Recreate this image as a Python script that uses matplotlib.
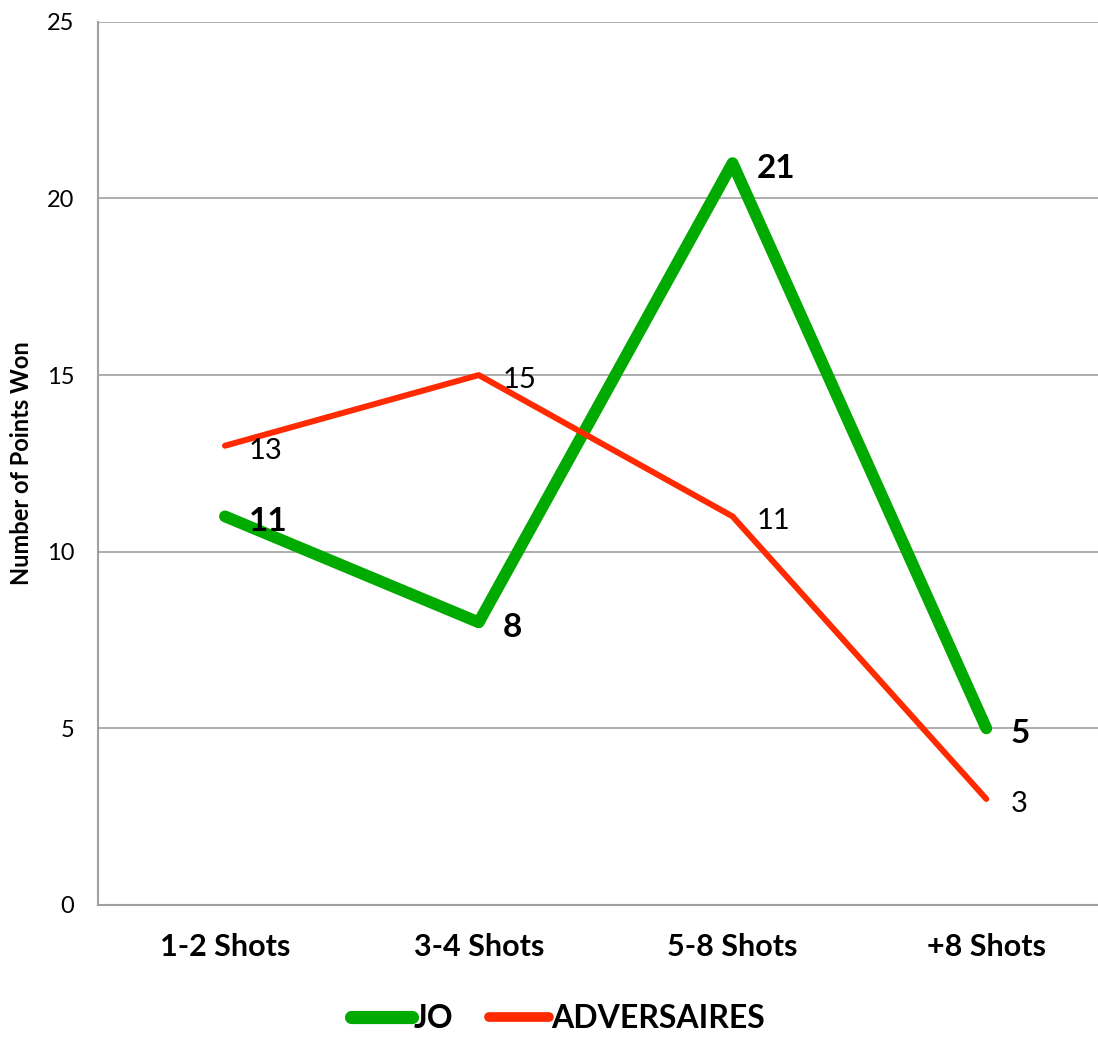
import matplotlib
matplotlib.use('Agg')
from matplotlib import pyplot as plt
import numpy as np

categories = ['1-2 Shots', '3-4 Shots', '5-8 Shots', '+8 Shots']
jo_values = [11, 8, 21, 5]
adv_values = [13, 15, 11, 3]

plt.rcParams['font.family'] = ['Lato', 'DejaVu Sans']

fig = plt.figure(figsize=(10.98, 10.39), dpi=100)
ax = fig.add_axes([0.0893, 0.129, 0.9107, 0.85])

x = np.arange(len(categories))
green = '#00AA00'
red = '#FF2A00'

ax.plot(x, jo_values, color=green, lw=8.5, solid_capstyle='round', solid_joinstyle='round', label='JO', zorder=3)
ax.plot(x, adv_values, color=red, lw=4.3, solid_capstyle='round', solid_joinstyle='round', label='ADVERSAIRES', zorder=3)

for xi, v in zip(x, jo_values):
    ax.annotate(str(v), (xi, v), xytext=(24, -5), textcoords='offset pixels',
                ha='left', va='center', fontsize=24, fontweight='bold')
for xi, v in zip(x, adv_values):
    ax.annotate(str(v), (xi, v), xytext=(24, -5), textcoords='offset pixels',
                ha='left', va='center', fontsize=21)

ax.set_xlim(-0.5, 3.44)
ax.set_ylim(0, 25)
ax.set_yticks([0, 5, 10, 15, 20, 25])
ax.set_xticks(x)
ax.set_xticklabels(categories, fontsize=22, fontweight='bold')
ax.tick_params(axis='y', labelsize=17, length=0, pad=17)
ax.tick_params(axis='x', length=0, pad=20)
ax.grid(axis='y', color='#A0A0A0', lw=1.2)
ax.set_axisbelow(True)
for s in ['top', 'right']:
    ax.spines[s].set_visible(False)
for s in ['left', 'bottom']:
    ax.spines[s].set_color('#A0A0A0')
    ax.spines[s].set_linewidth(1.5)

ax.set_ylabel('Number of Points Won', fontsize=17, fontweight='bold', labelpad=10)

leg = ax.legend(loc='lower center', bbox_to_anchor=(0.46, -0.178), ncol=2, frameon=False,
                prop={'size': 23, 'weight': 'bold'}, handlelength=1.9, handletextpad=0.05,
                columnspacing=1.1)
leg.get_lines()[0].set_linewidth(9.5)
leg.get_lines()[1].set_linewidth(7)

fig.savefig('out.png', dpi=100)
